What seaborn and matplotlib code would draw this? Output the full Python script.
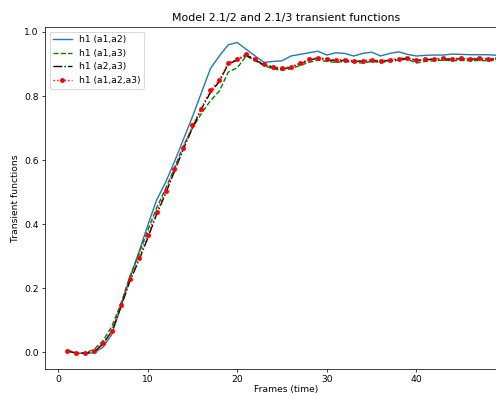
import numpy as np
import pandas as pd
import matplotlib
matplotlib.use("Agg")
import matplotlib.pyplot as plt
import seaborn as sns

frames = list(range(1, 51))

h1_a1a2 = [0.005, -0.003, -0.004, -0.002, 0.015, 0.055, 0.140, 0.230, 0.310, 0.395,
           0.475, 0.530, 0.595, 0.665, 0.735, 0.810, 0.885, 0.925, 0.960, 0.967,
           0.946, 0.925, 0.905, 0.908, 0.910, 0.925, 0.930, 0.935, 0.940, 0.928,
           0.935, 0.933, 0.925, 0.933, 0.937, 0.925, 0.933, 0.938, 0.930, 0.925,
           0.927, 0.928, 0.928, 0.931, 0.930, 0.929, 0.929, 0.929, 0.927, 0.927]

h1_a1a3 = [0.007, -0.002, -0.002, 0.008, 0.035, 0.080, 0.150, 0.235, 0.305, 0.380,
           0.450, 0.510, 0.575, 0.645, 0.700, 0.745, 0.785, 0.815, 0.875, 0.888,
           0.925, 0.910, 0.895, 0.885, 0.880, 0.885, 0.895, 0.905, 0.912, 0.908,
           0.905, 0.908, 0.905, 0.903, 0.908, 0.905, 0.908, 0.912, 0.915, 0.903,
           0.908, 0.910, 0.912, 0.910, 0.911, 0.910, 0.911, 0.910, 0.911, 0.910]

h1_a2a3 = [0.004, -0.003, -0.003, 0.000, 0.025, 0.065, 0.140, 0.220, 0.285, 0.355,
           0.430, 0.495, 0.565, 0.635, 0.700, 0.760, 0.810, 0.845, 0.900, 0.912,
           0.928, 0.913, 0.897, 0.890, 0.884, 0.890, 0.900, 0.912, 0.918, 0.913,
           0.911, 0.911, 0.908, 0.909, 0.911, 0.909, 0.911, 0.915, 0.918, 0.911,
           0.913, 0.915, 0.916, 0.915, 0.916, 0.915, 0.916, 0.915, 0.916, 0.916]

h1_a1a2a3 = [0.005, -0.002, -0.002, 0.003, 0.030, 0.065, 0.147, 0.227, 0.293, 0.366,
             0.438, 0.503, 0.571, 0.638, 0.708, 0.761, 0.818, 0.849, 0.904, 0.915,
             0.930, 0.915, 0.899, 0.892, 0.886, 0.892, 0.902, 0.915, 0.920, 0.915,
             0.913, 0.913, 0.910, 0.910, 0.913, 0.910, 0.913, 0.917, 0.920, 0.912,
             0.915, 0.917, 0.918, 0.917, 0.918, 0.917, 0.918, 0.917, 0.918, 0.918]

labels = ["h1 (a1,a2)", "h1 (a1,a3)", "h1 (a2,a3)", "h1 (a1,a2,a3)"]
series = [h1_a1a2, h1_a1a3, h1_a2a3, h1_a1a2a3]
styles = [dict(color="#1f77b4", linestyle="-"),
          dict(color="green", linestyle="--"),
          dict(color="black", linestyle="-."),
          dict(color="red", linestyle=":", marker="o", markersize=4.5,
               markeredgecolor="red", markerfacecolor="red")]

dpi = 66
fig = plt.figure(figsize=(496 / dpi, 395 / dpi), dpi=dpi)
ax = fig.add_axes([45 / 496, 1 - 369 / 395, 483 / 496, (369 - 27) / 395])

for lab, vals, st in zip(labels, series, styles):
    df = pd.DataFrame({"frame": frames, "value": vals})
    sns.lineplot(data=df, x="frame", y="value", ax=ax, label=lab, linewidth=1.5, **st)

ax.set_title("Model 2.1/2 and 2.1/3 transient functions")
ax.set_xlabel("Frames (time)", labelpad=1)
ax.set_ylabel("Transient functions")
ax.set_xticks([0, 10, 20, 30, 40])
ax.set_yticks([0.0, 0.2, 0.4, 0.6, 0.8, 1.0])
ax.legend(loc="upper left")

fig.savefig("out.png", dpi=dpi)
